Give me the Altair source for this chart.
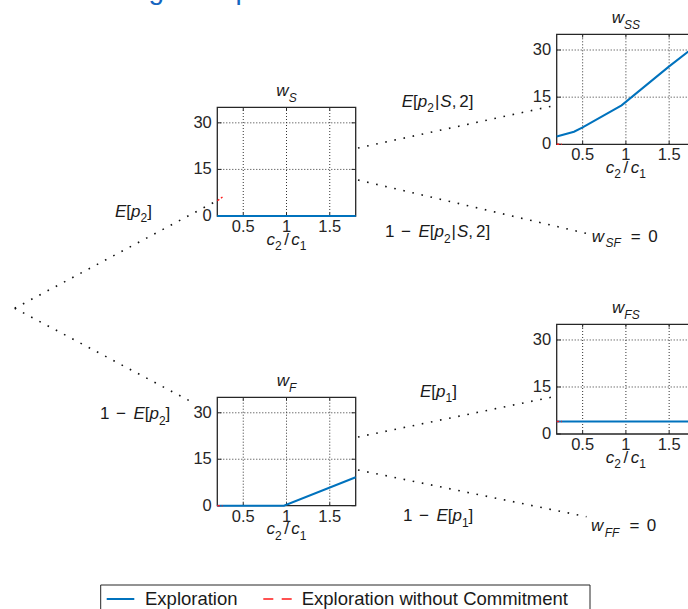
import altair as alt
import pandas as pd

# ---------------------------------------------------------------- data
X_DOMAIN = [0.2, 1.8]
Y_DOMAIN = [0, 35]
X_TICKS = [0.5, 1.0, 1.5]
X_TICK_LABELS = ["0.5", "1", "1.5"]
Y_TICKS = [0, 15, 30]
Y_TICK_LABELS = ["0", "15", "30"]

# Exploration: value of each tree node as a function of c2/c1
EXPL_S_X = [0.2, 1.8]
EXPL_S_Y = [0.0, 0.0]
EXPL_SS_X = [0.2, 0.4, 0.5, 0.95, 1.5, 1.8]
EXPL_SS_Y = [2.5, 4.0, 5.4, 12.4, 24.8, 31.2]
EXPL_F_X = [0.2, 0.97, 1.8]
EXPL_F_Y = [0.0, 0.0, 9.2]
EXPL_FS_X = [0.2, 1.8]
EXPL_FS_Y = [4.0, 4.0]

# Exploration without commitment
NOCOMMIT_X = [0.2, 0.26]
NOCOMMIT_S_Y = [4.9, 6.1]
NOCOMMIT_SS_Y = [0.0, 0.0]
NOCOMMIT_F_Y = [0.0, 0.0]
NOCOMMIT_FS_Y = [4.0, 4.0]

SERIES_NAMES = ["Exploration", "Exploration without Commitment"]
HEADING = "Learning to Explore"

# ---------------------------------------------------------------- style / layout
W, H = 688, 609
FONT = "Liberation Sans"
BLUE = "#0072BD"
RED = "#FF1A1A"
AXIS = "#262626"
GRID = "#333333"
INK = "#1a1a1a"
HEAD_BLUE = "#1565c0"

SIZE_MAIN = 17
SIZE_SUB = 12
SUB_DROP = 5.5
TICK_SIZE = 16.5
LEGEND_SIZE = 18.5
TICK_FRAC = 0.03

# axes boxes of the tree nodes: left, top, right, bottom (px)
BOXES = {
    "S": (217.3, 107.3, 355.7, 216.0),
    "SS": (556.7, 34.3, 695.1, 144.3),
    "F": (217.3, 397.3, 355.7, 505.7),
    "FS": (556.7, 324.3, 695.1, 434.0),
}
ROOT = (14.7, 308.3)
EDGES = [
    (ROOT, (213.5, 202.5)),
    (ROOT, (189.5, 400.8)),
    ((358.0, 148.0), (552.5, 106.0)),
    ((358.0, 180.0), (586.0, 233.3)),
    ((358.0, 437.0), (552.5, 397.0)),
    ((358.0, 470.0), (586.5, 516.7)),
]

# Liberation Sans / Arial advance widths (1/1000 em)
ADV = {
    " ": 278, ".": 278, ",": 278, "[": 278, "]": 278, "|": 260, "/": 278,
    "=": 584, "\u2212": 584, "E": 667, "S": 667, "F": 611, "c": 500,
    "w": 722, "p": 556,
}


def advance(text, size):
    return sum(ADV.get(ch, 556) for ch in text) * size / 1000.0


def M(text, italic=False):
    return (text, "main", italic)


def Sb(text, italic=False):
    return (text, "sub", italic)


def G(px):
    return ("gap", px)


def lay_out(pieces, x, baseline, align="left"):
    widths = []
    for p in pieces:
        if p[0] == "gap":
            widths.append(p[1])
        else:
            widths.append(advance(p[0], SIZE_MAIN if p[1] == "main" else SIZE_SUB))
    cur = x - sum(widths) / 2 if align == "center" else x
    rows = []
    for p, w in zip(pieces, widths):
        if p[0] != "gap":
            text, role, italic = p
            rows.append({
                "px": cur,
                "py": baseline + (SUB_DROP if role == "sub" else 0.0),
                "text": text,
                "size": SIZE_MAIN if role == "main" else SIZE_SUB,
                "italic": italic,
            })
        cur += w
    return rows


def ident(f, ch):
    enc = alt.X if ch == "x" else alt.Y
    return enc(f"{f}:Q", scale=None, axis=None)


# ---------------------------------------------------------------- one node panel
def panel(key, ex, ey, ny):
    x0, y0, x1, y1 = BOXES[key]
    xs = alt.Scale(domain=X_DOMAIN, range=[x0, x1], nice=False, zero=False)
    ys = alt.Scale(domain=Y_DOMAIN, range=[y1, y0], nice=False, zero=False)

    def X(f):
        return alt.X(f"{f}:Q", scale=xs, axis=None)

    def Y(f):
        return alt.Y(f"{f}:Q", scale=ys, axis=None)

    xmin, xmax = X_DOMAIN
    ymin, ymax = Y_DOMAIN
    tx = TICK_FRAC * (xmax - xmin)
    ty = TICK_FRAC * (ymax - ymin)

    vgrid = pd.DataFrame({"x": X_TICKS, "y": ymin, "y2": ymax})
    hgrid = pd.DataFrame({"y": [t for t in Y_TICKS if t > ymin], "x": xmin, "x2": xmax})
    vticks = pd.DataFrame(
        [{"x": t, "y": ymin, "y2": ymin + ty} for t in X_TICKS]
        + [{"x": t, "y": ymax, "y2": ymax - ty} for t in X_TICKS]
    )
    hticks = pd.DataFrame(
        [{"y": t, "x": xmin, "x2": xmin + tx} for t in Y_TICKS]
        + [{"y": t, "x": xmax, "x2": xmax - tx} for t in Y_TICKS]
    )
    frame = pd.DataFrame({"x": [xmin], "x2": [xmax], "y": [ymin], "y2": [ymax]})
    xlab = pd.DataFrame({"x": X_TICKS, "y": ymin, "label": X_TICK_LABELS})
    ylab = pd.DataFrame({"y": Y_TICKS, "x": xmin, "label": Y_TICK_LABELS})
    expl = pd.DataFrame({"x": ex, "y": ey})
    nocom = pd.DataFrame({"x": NOCOMMIT_X, "y": ny})

    return alt.layer(
        alt.Chart(vgrid).mark_rule(color=GRID, strokeWidth=1, strokeDash=[1, 2])
        .encode(x=X("x"), y=Y("y"), y2="y2"),
        alt.Chart(hgrid).mark_rule(color=GRID, strokeWidth=1, strokeDash=[1, 2])
        .encode(y=Y("y"), x=X("x"), x2="x2"),
        alt.Chart(vticks).mark_rule(color=AXIS, strokeWidth=1)
        .encode(x=X("x"), y=Y("y"), y2="y2"),
        alt.Chart(hticks).mark_rule(color=AXIS, strokeWidth=1)
        .encode(y=Y("y"), x=X("x"), x2="x2"),
        alt.Chart(frame).mark_rect(fillOpacity=0, stroke=AXIS, strokeWidth=1.3)
        .encode(x=X("x"), x2="x2", y=Y("y"), y2="y2"),
        alt.Chart(xlab).mark_text(font=FONT, fontSize=TICK_SIZE, color=AXIS,
                                  align="center", baseline="alphabetic", dy=16)
        .encode(x=X("x"), y=Y("y"), text="label:N"),
        alt.Chart(ylab).mark_text(font=FONT, fontSize=TICK_SIZE, color=AXIS,
                                  align="right", baseline="middle", dx=-5.5)
        .encode(x=X("x"), y=Y("y"), text="label:N"),
        alt.Chart(expl).mark_line(color=BLUE, strokeWidth=2)
        .encode(x=X("x"), y=Y("y")),
        alt.Chart(nocom).mark_line(color=RED, strokeWidth=1.4, strokeDash=[2.5, 2])
        .encode(x=X("x"), y=Y("y")),
    )


panels = [
    panel("S", EXPL_S_X, EXPL_S_Y, NOCOMMIT_S_Y),
    panel("SS", EXPL_SS_X, EXPL_SS_Y, NOCOMMIT_SS_Y),
    panel("F", EXPL_F_X, EXPL_F_Y, NOCOMMIT_F_Y),
    panel("FS", EXPL_FS_X, EXPL_FS_Y, NOCOMMIT_FS_Y),
]

# ---------------------------------------------------------------- math-style labels
rows = []
for key, (x0, y0, x1, y1) in BOXES.items():
    cx = (x0 + x1) / 2
    rows += lay_out([M("w", True), Sb(key, True)], cx, y0 - 11, "center")
    rows += lay_out([M("c", True), Sb("2"), G(2.5), M("/"), G(2.5), M("c", True), Sb("1")],
                    cx, y1 + 28.5, "center")

ONE_MINUS = [M("1"), G(6.5), M("\u2212"), G(7.5)]
E_P2 = [M("E", True), M("["), M("p", True), Sb("2"), M("]")]
E_P1 = [M("E", True), M("["), M("p", True), Sb("1"), M("]")]
E_P2_S2 = [M("E", True), M("["), M("p", True), Sb("2"), G(1), M("|"), G(1),
           M("S", True), M(","), G(3), M("2"), M("]")]

rows += lay_out(E_P2, 115.0, 216.7)
rows += lay_out(ONE_MINUS + E_P2, 100.0, 419.0)
rows += lay_out(E_P2_S2, 401.7, 106.7)
rows += lay_out(ONE_MINUS + E_P2_S2, 385.0, 237.0)
rows += lay_out([M("w", True), G(1.5), Sb("SF", True), G(10), M("="), G(7.5), M("0")], 591.7, 241.7)
rows += lay_out(E_P1, 420.0, 396.7)
rows += lay_out(ONE_MINUS + E_P1, 403.0, 521.0)
rows += lay_out([M("w", True), G(1.5), Sb("FF", True), G(10), M("="), G(7.5), M("0")], 591.0, 531.0)

labels = pd.DataFrame(rows)


def label_layer(italic):
    df = labels[labels["italic"] == italic]
    return alt.Chart(df).mark_text(
        font=FONT, color=INK, align="left", baseline="alphabetic",
        fontStyle="italic" if italic else "normal",
    ).encode(
        x=ident("px", "x"), y=ident("py", "y"), text="text:N",
        size=alt.Size("size:Q", scale=None, legend=None),
    )


# ---------------------------------------------------------------- tree edges
edges = pd.DataFrame(
    [{"px": a[0], "py": a[1], "px2": b[0], "py2": b[1]} for a, b in EDGES]
)
edge_layer = alt.Chart(edges).mark_rule(
    color="#111111", strokeWidth=1.6, strokeDash=[1.6, 7.7]
).encode(x=ident("px", "x"), y=ident("py", "y"), x2="px2", y2="py2")

# ---------------------------------------------------------------- heading (runs off the top)
heading = alt.Chart(pd.DataFrame({"px": [55.0], "py": [-1.5], "t": [HEADING]})).mark_text(
    font=FONT, fontSize=28, color=HEAD_BLUE, align="left", baseline="alphabetic"
).encode(x=ident("px", "x"), y=ident("py", "y"), text="t:N")

# ---------------------------------------------------------------- legend
LEG_BOX = (100.7, 585.0, 590.0, 620.0)
LEG_ROW = 599.0
LEG_BASE = 605.0
leg_frame = alt.Chart(pd.DataFrame({
    "px": [LEG_BOX[0]], "px2": [LEG_BOX[2]], "py": [LEG_BOX[1]], "py2": [LEG_BOX[3]]
})).mark_rect(fill="white", stroke=AXIS, strokeWidth=1).encode(
    x=ident("px", "x"), x2="px2", y=ident("py", "y"), y2="py2")
leg_blue = alt.Chart(pd.DataFrame({"px": [106.7], "px2": [134.3], "py": [LEG_ROW]})).mark_rule(
    color=BLUE, strokeWidth=2).encode(x=ident("px", "x"), x2="px2", y=ident("py", "y"))
leg_red = alt.Chart(pd.DataFrame({"px": [263.3], "px2": [291.7], "py": [LEG_ROW]})).mark_rule(
    color=RED, strokeWidth=1.5, strokeDash=[10, 8.4]).encode(x=ident("px", "x"), x2="px2", y=ident("py", "y"))
leg_text = alt.Chart(pd.DataFrame({
    "px": [145.0, 301.7], "py": [LEG_BASE, LEG_BASE], "t": SERIES_NAMES
})).mark_text(font=FONT, fontSize=LEGEND_SIZE, color=INK, align="left", baseline="alphabetic").encode(
    x=ident("px", "x"), y=ident("py", "y"), text="t:N")

chart = alt.layer(
    heading,
    edge_layer,
    *panels,
    label_layer(False),
    label_layer(True),
    leg_frame, leg_blue, leg_red, leg_text,
).resolve_scale(
    x="independent", y="independent"
).properties(
    width=W, height=H,
    autosize=alt.AutoSizeParams(type="none"),
    padding=0,
    background="white",
).configure_view(stroke=None)

chart.save("out.html", embed_options={"renderer": "svg", "actions": False})
